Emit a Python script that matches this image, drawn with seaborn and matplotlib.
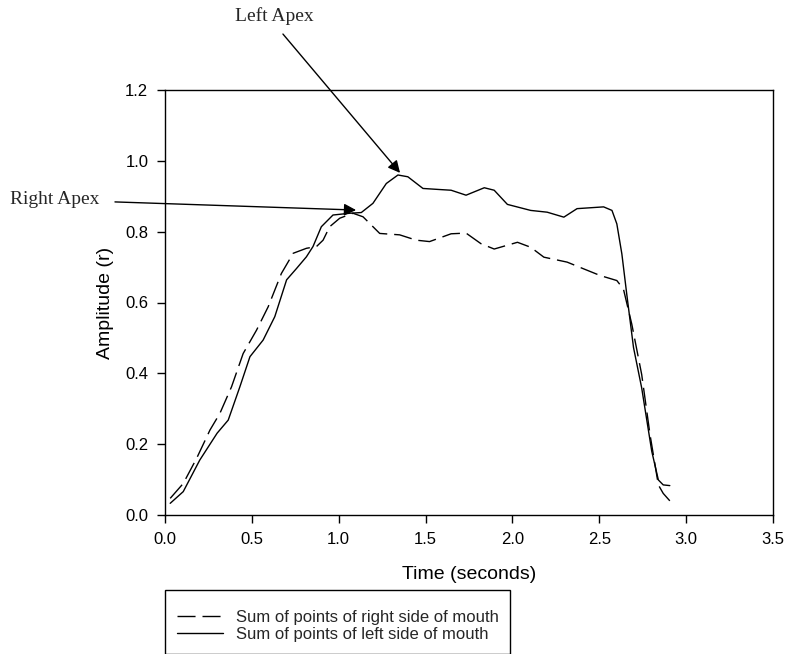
import numpy as np
import pandas as pd
import matplotlib
matplotlib.use('Agg')
import matplotlib.pyplot as plt
import seaborn as sns

# Right side of mouth (dashed)
right_time = [0.03, 0.105, 0.182, 0.259, 0.316, 0.383, 0.45, 0.527, 0.594, 0.67,
              0.738, 0.814, 0.872, 0.91, 0.948, 1.006, 1.082, 1.14, 1.236, 1.351,
              1.446, 1.523, 1.647, 1.733, 1.819, 1.895, 2.029, 2.105, 2.181, 2.315,
              2.41, 2.506, 2.601, 2.639, 2.687, 2.744, 2.792, 2.84, 2.868, 2.906]
right_amp = [0.047, 0.089, 0.16, 0.24, 0.287, 0.362, 0.456, 0.522, 0.588, 0.682,
             0.739, 0.753, 0.758, 0.776, 0.814, 0.838, 0.852, 0.842, 0.795, 0.791,
             0.776, 0.772, 0.794, 0.796, 0.766, 0.751, 0.77, 0.756, 0.728, 0.714,
             0.695, 0.676, 0.662, 0.638, 0.539, 0.397, 0.227, 0.085, 0.061, 0.04]

# Left side of mouth (solid)
left_time = [0.03, 0.105, 0.20, 0.30, 0.364, 0.431, 0.489, 0.565, 0.632, 0.70,
             0.757, 0.814, 0.852, 0.90, 0.967, 1.063, 1.13, 1.197, 1.274, 1.341,
             1.398, 1.485, 1.58, 1.647, 1.733, 1.838, 1.895, 1.971, 2.105, 2.20,
             2.296, 2.372, 2.525, 2.573, 2.601, 2.63, 2.658, 2.697, 2.744, 2.802,
             2.84, 2.868, 2.906]
left_amp = [0.033, 0.066, 0.155, 0.231, 0.268, 0.362, 0.447, 0.494, 0.56, 0.664,
            0.696, 0.729, 0.758, 0.814, 0.847, 0.852, 0.854, 0.88, 0.936, 0.96,
            0.955, 0.922, 0.919, 0.917, 0.903, 0.924, 0.917, 0.877, 0.860, 0.855,
            0.841, 0.865, 0.87, 0.86, 0.822, 0.737, 0.624, 0.473, 0.359, 0.18,
            0.099, 0.085, 0.083]

right_label = 'Sum of points of right side of mouth'
left_label = 'Sum of points of left side of mouth'

sns.set_theme(style="ticks")
plt.rcParams['font.family'] = ['Liberation Sans', 'DejaVu Sans']

fig = plt.figure(figsize=(7.88, 6.54), dpi=100)
ax = fig.add_axes([165 / 788, 1 - 515 / 654, 608 / 788, 425 / 654])

sns.lineplot(x=right_time, y=right_amp, ax=ax, color='black', lw=1.0,
             estimator=None, label=right_label)
ax.lines[-1].set_dashes((13, 5))
sns.lineplot(x=left_time, y=left_amp, ax=ax, color='black', lw=1.0,
             estimator=None, label=left_label)

ax.set_xlim(0, 3.5)
ax.set_ylim(0, 1.2)
ax.set_xticks(np.arange(0, 3.51, 0.5))
ax.set_yticks(np.arange(0, 1.21, 0.2))
ax.xaxis.set_major_formatter(matplotlib.ticker.FormatStrFormatter('%.1f'))
ax.yaxis.set_major_formatter(matplotlib.ticker.FormatStrFormatter('%.1f'))
ax.tick_params(axis='both', direction='out', length=6, width=1, labelsize=12,
               color='black', labelcolor='black', pad=6)
for s in ax.spines.values():
    s.set_visible(True)
    s.set_color('black')
    s.set_linewidth(1.0)

ax.set_xlabel('Time (seconds)', fontsize=14, color='black', labelpad=14)
ax.set_ylabel('Amplitude (r)', fontsize=14, color='black', labelpad=8)

# Annotations
arrow = dict(arrowstyle='-|>', color='black', lw=1.0, mutation_scale=18,
             shrinkA=0, shrinkB=0)
ax.annotate('', xy=(1.353, 0.966), xytext=(0.679, 1.358), arrowprops=arrow,
            annotation_clip=False)
ax.annotate('', xy=(1.100, 0.861), xytext=(-0.288, 0.884), arrowprops=arrow,
            annotation_clip=False)
ax.text(0.628, 1.409, 'Left Apex', fontsize=14, ha='center', va='center',
        family=['Liberation Serif', 'DejaVu Serif'], clip_on=False)
ax.text(-0.38, 0.892, 'Right Apex', fontsize=14, ha='right', va='center',
        family=['Liberation Serif', 'DejaVu Serif'], clip_on=False)

# Legend box sits below the axes and runs off the bottom of the figure
leg = ax.legend(loc='upper left', bbox_to_anchor=(165 / 788, 1 - 590 / 654),
                bbox_transform=fig.transFigure, fontsize=12, frameon=True,
                fancybox=False, edgecolor='black', framealpha=1,
                handlelength=2.75, handletextpad=0.8, labelspacing=0.1,
                borderpad=0.7, borderaxespad=0, title=' ', title_fontsize=5)
leg.get_frame().set_linewidth(1.0)

fig.savefig('out.png', dpi=100)
